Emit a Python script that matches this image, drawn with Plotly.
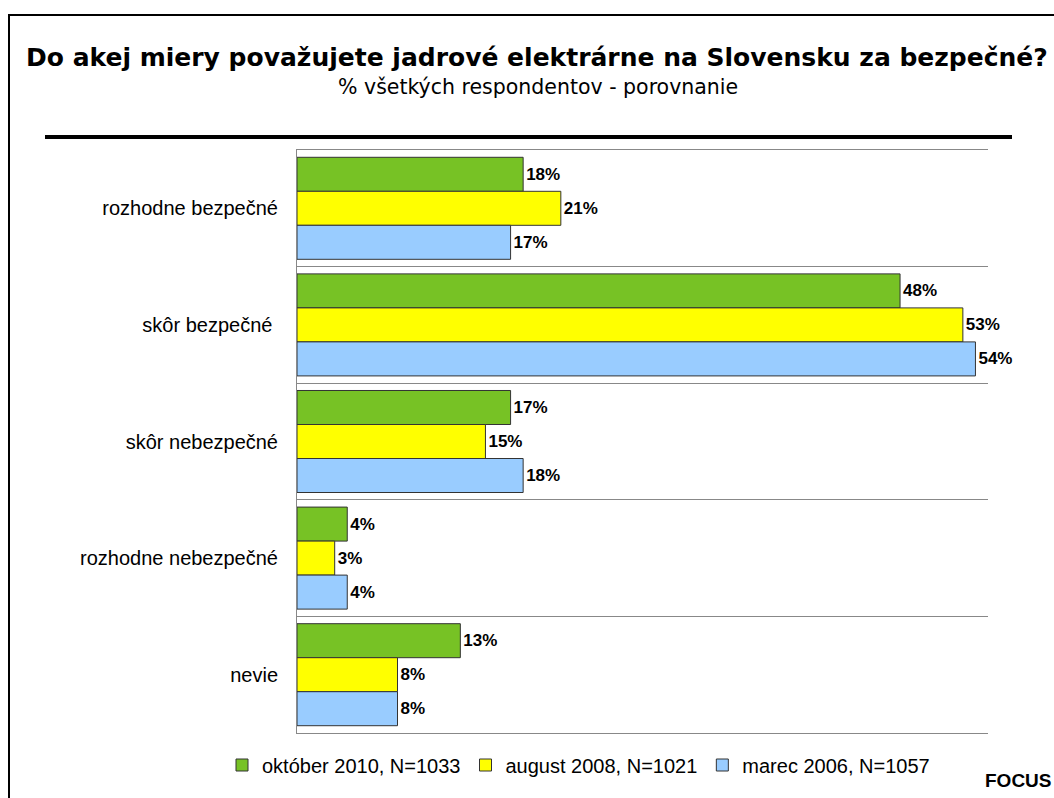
import plotly.graph_objects as go

W, H = 1054, 798
# plot area in pixels
L, R, T, B = 297, 988, 150, 733

categories = ['rozhodne bezpečné', 'skôr bezpečné ', 'skôr nebezpečné',
              'rozhodne nebezpečné', 'nevie']
series_names = ['október 2010, N=1033', 'august 2008, N=1021', 'marec 2006, N=1057']
okt_2010 = [18, 48, 17, 4, 13]
aug_2008 = [21, 53, 15, 3, 8]
mar_2006 = [17, 54, 18, 4, 8]
colors = ['#77C225', '#FFFF00', '#99CCFF']


def px(x):
    return (x - L) / (R - L)


def py_(y):
    return (B - y) / (B - T)


fig = go.Figure()
for name, vals, col in zip(series_names, [okt_2010, aug_2008, mar_2006], colors):
    fig.add_trace(go.Bar(
        y=categories, x=vals, name=name, orientation='h',
        marker=dict(color=col, line=dict(color='#333333', width=1)),
        texttemplate='%{x}%', textposition='outside',
        textfont=dict(family='Liberation Sans, Arial', size=17, color='black', weight='bold'),
        cliponaxis=False,
    ))

fig.update_layout(
    width=W, height=H,
    margin=dict(l=L, r=W - R, t=T, b=H - B, autoexpand=False),
    paper_bgcolor='white', plot_bgcolor='white',
    barmode='group', bargap=0.125, bargroupgap=0,
    showlegend=True,
    legend=dict(orientation='h', x=px(222), xanchor='left', y=py_(765), yanchor='middle',
                bgcolor='rgba(0,0,0,0)',
                font=dict(family='Liberation Sans, Arial', size=20, color='black'),
                itemwidth=30, traceorder='normal'),
    xaxis=dict(range=[0, 55], showgrid=False, zeroline=False, showticklabels=False,
               showline=True, mirror=True, linecolor='#888888', linewidth=1),
    yaxis=dict(autorange='reversed', tickson='boundaries', showgrid=True,
               gridcolor='#888888', gridwidth=1, showline=True, linecolor='#888888',
               ticks='', ticklabelstandoff=14,
               tickfont=dict(family='Liberation Sans, Arial', size=20, color='black')),
    annotations=[
        dict(text='<b>Do akej miery považujete jadrové elektrárne na Slovensku za bezpečné?</b>',
             x=px(537), y=py_(58), xref='paper', yref='paper', showarrow=False,
             xanchor='center', yanchor='middle',
             font=dict(family='DejaVu Sans', size=25, color='black')),
        dict(text='% všetkých respondentov - porovnanie',
             x=px(538), y=py_(87), xref='paper', yref='paper', showarrow=False,
             xanchor='center', yanchor='middle',
             font=dict(family='DejaVu Sans', size=20.5, color='black')),
        dict(text='<b>FOCUS</b>', x=px(1054), y=py_(780), xref='paper', yref='paper',
             showarrow=False, xanchor='right', yanchor='middle',
             font=dict(family='Liberation Sans, Arial', size=19, color='black')),
    ],
    shapes=[
        dict(type='rect', xref='paper', yref='paper', x0=px(9), y0=py_(15),
             x1=px(1070), y1=py_(815), line=dict(color='black', width=2)),
        dict(type='line', xref='paper', yref='paper', x0=px(45), y0=py_(137),
             x1=px(1012), y1=py_(137), line=dict(color='black', width=4)),
    ],
)

# drop the default body margin so the figure fills the window exactly
fig.write_html('out.html', config={'displayModeBar': False},
               post_script="document.body.style.margin='0';"
                           "document.body.style.overflow='hidden';")
